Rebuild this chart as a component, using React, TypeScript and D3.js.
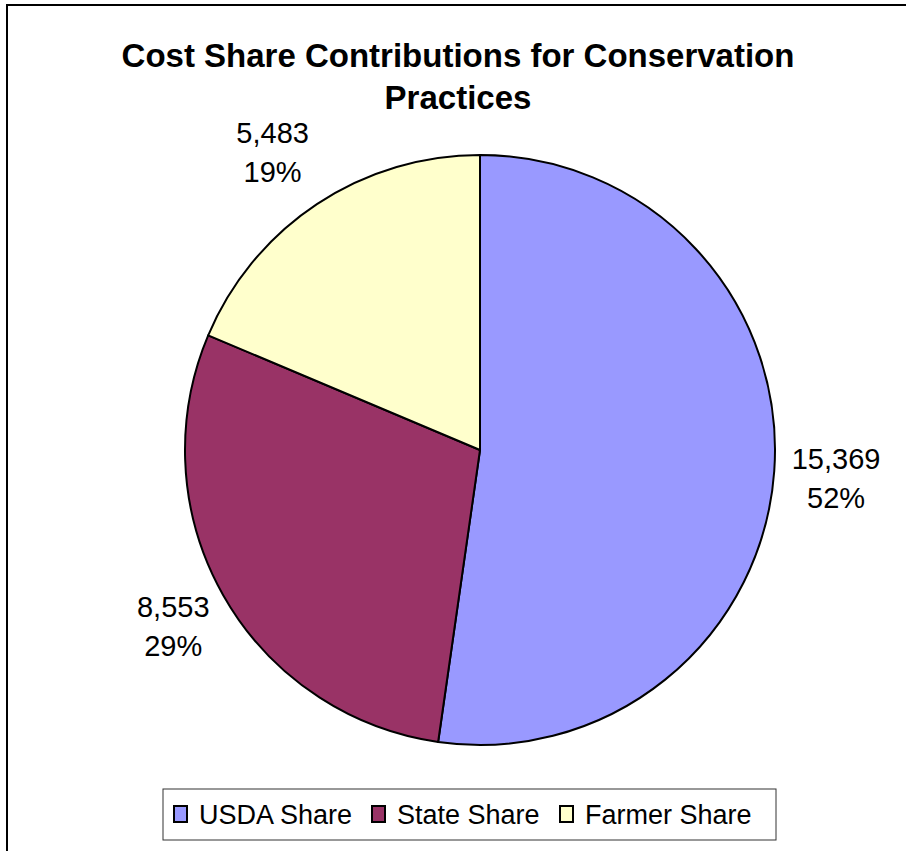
import React from "react";
import * as d3 from "d3";

const categories = ["USDA Share", "State Share", "Farmer Share"];
const values = [15369, 8553, 5483];
const colors = ["#9999FF", "#993366", "#FFFFCC"];
const titleLines = ["Cost Share Contributions for Conservation", "Practices"];

const W = 906;
const H = 851;
const cx = 480;
const cy = 450;
const R = 295;
const FONT = "'Liberation Sans', Arial, sans-serif";

export default function App() {
  const total = d3.sum(values);
  const pie = d3.pie<number>().sort(null).value((d) => d)(values);
  const arc = d3.arc<d3.PieArcDatum<number>>().innerRadius(0).outerRadius(R);
  const fmt = d3.format(",");
  const labelR = R + 62;
  const labelNudge = [[0, 0], [4, -3], [-10, -4]];

  const legendX = 163;
  const legendY = 789;
  const legendW = 613;
  const legendH = 51;
  const entryX = [174, 372, 560];

  return (
    <svg width={W} height={H} style={{ display: "block", position: "absolute", left: 0, top: 0 }}>
      <rect x={0} y={0} width={W} height={H} fill="#fff" />
      <rect x={7} y={5} width={W + 20} height={H + 20} fill="none" stroke="#000" strokeWidth={2} />
      {titleLines.map((t, i) => (
        <text
          key={i}
          x={458}
          y={67 + i * 42}
          textAnchor="middle"
          fontFamily={FONT}
          fontWeight="bold"
          fontSize={33}
          fill="#000"
        >
          {t}
        </text>
      ))}
      <g transform={`translate(${cx},${cy})`}>
        {pie.map((d, i) => (
          <path key={i} d={arc(d) || ""} fill={colors[i]} stroke="#000" strokeWidth={2} strokeLinejoin="round" />
        ))}
        {pie.map((d, i) => {
          const a = (d.startAngle + d.endAngle) / 2;
          const x = Math.sin(a) * labelR + labelNudge[i][0];
          const y = -Math.cos(a) * labelR + labelNudge[i][1];
          return (
            <text key={i} textAnchor="middle" fontFamily={FONT} fontSize={29} fill="#000">
              <tspan x={x} y={y - 6}>{fmt(values[i])}</tspan>
              <tspan x={x} y={y + 33}>{d3.format(".0%")(values[i] / total)}</tspan>
            </text>
          );
        })}
      </g>
      <rect x={legendX} y={legendY} width={legendW} height={legendH} fill="#fff" stroke="#333" strokeWidth={1} />
      {categories.map((c, i) => (
        <g key={c}>
          <rect x={entryX[i]} y={806} width={13} height={16} fill={colors[i]} stroke="#000" strokeWidth={2} />
          <text x={entryX[i] + 25} y={824} fontFamily={FONT} fontSize={27} fill="#000">
            {c}
          </text>
        </g>
      ))}
    </svg>
  );
}
